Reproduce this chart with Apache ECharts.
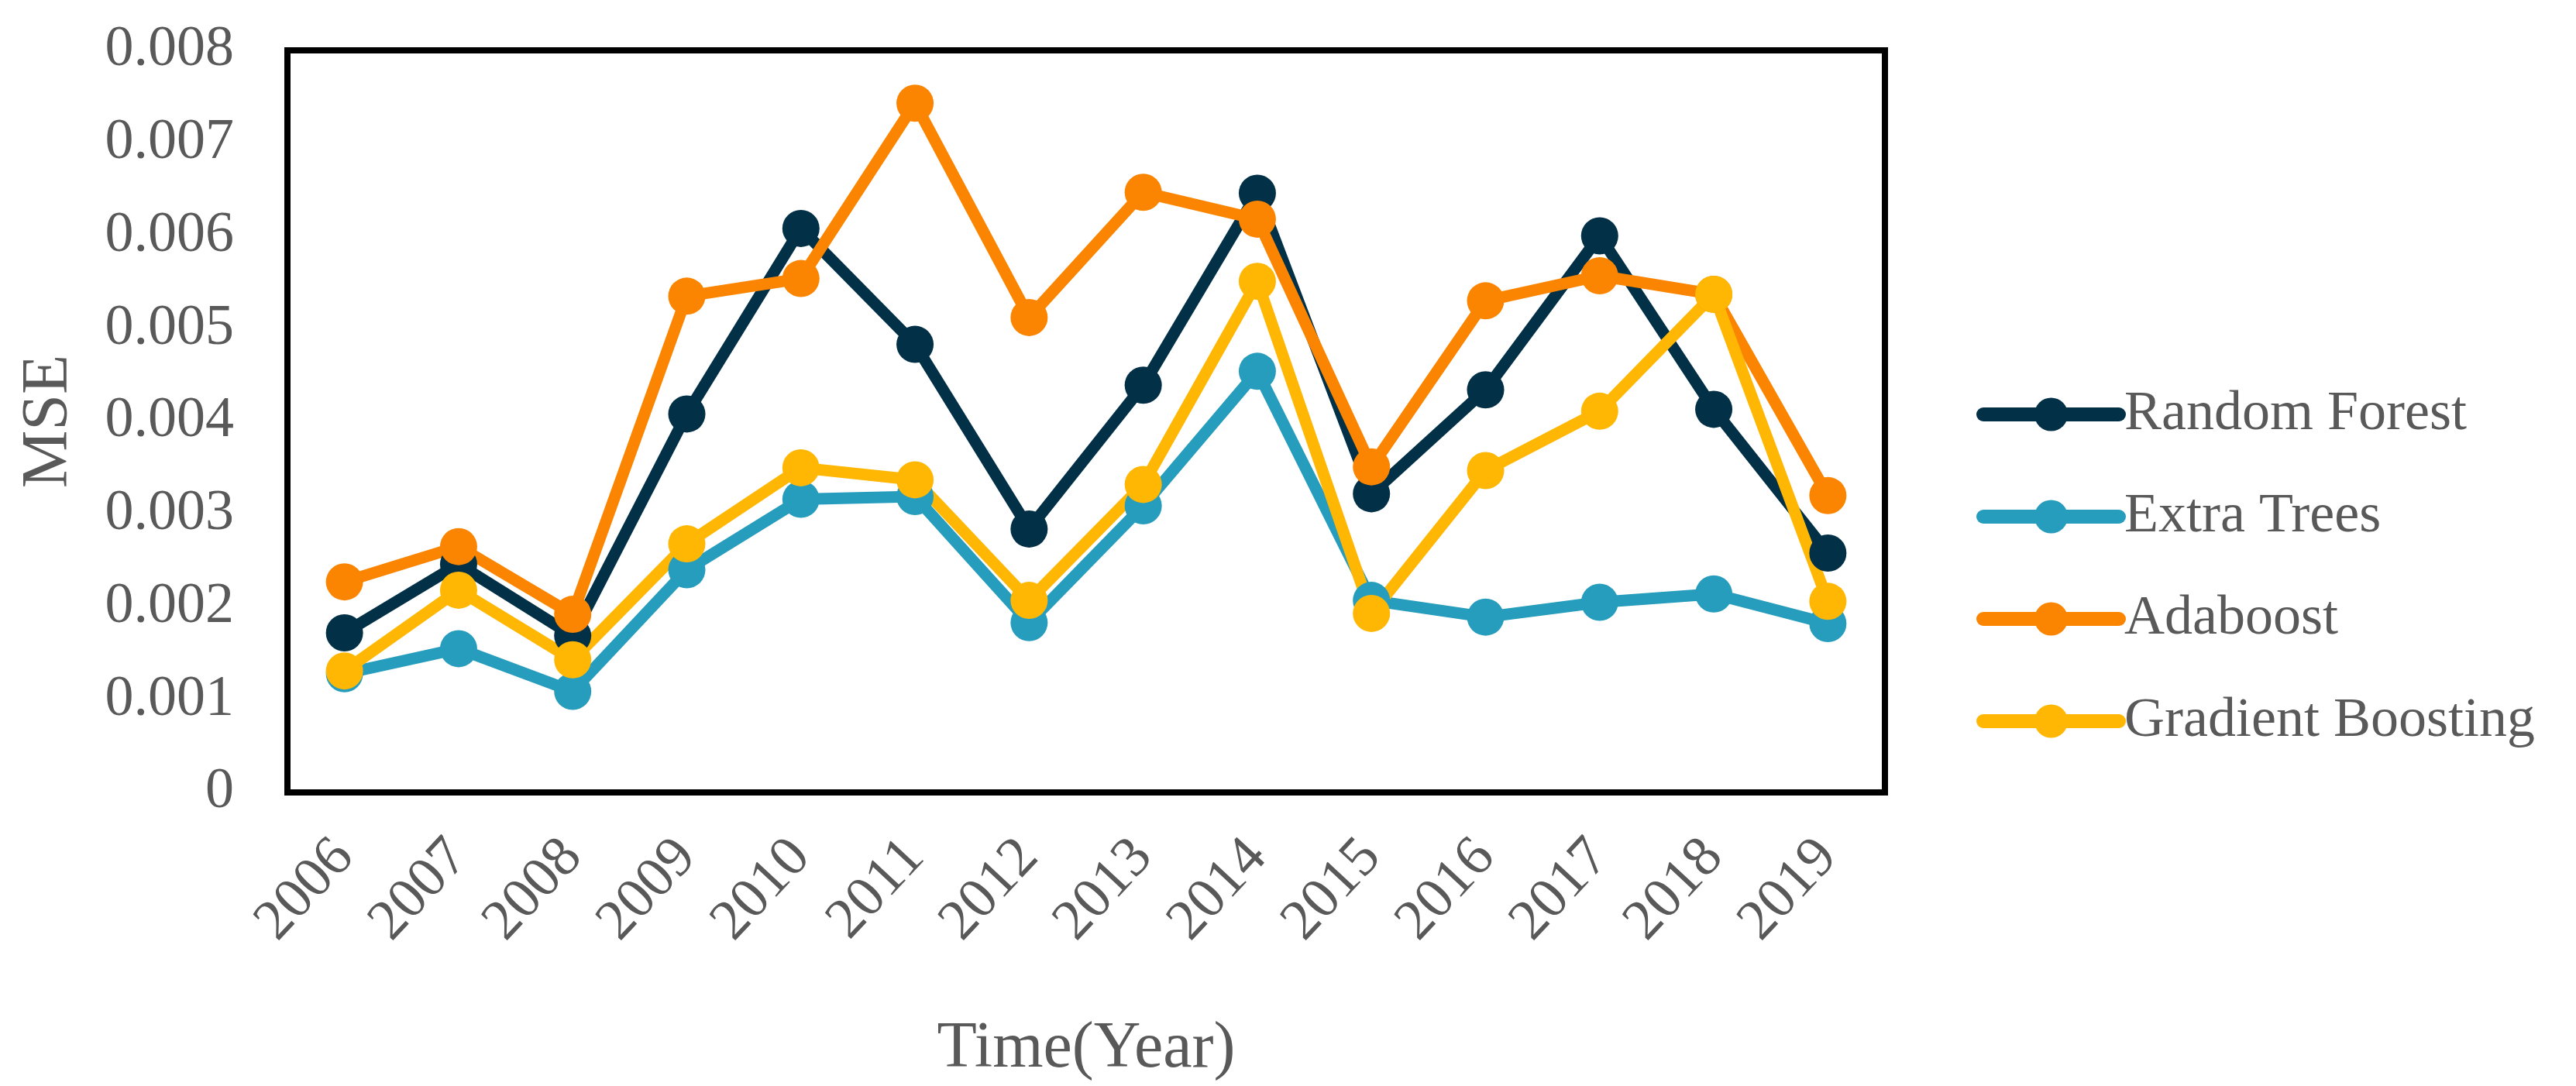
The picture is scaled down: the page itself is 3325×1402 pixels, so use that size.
<!DOCTYPE html>
<html>
<head>
<meta charset="utf-8">
<script src="https://cdn.jsdelivr.net/npm/echarts@6/dist/echarts.min.js"></script>
<style>html,body{margin:0;padding:0;background:#fff;}#c{width:3325px;height:1402px;}</style>
</head>
<body>
<div id="c"></div>
<script>
const years = ['2006','2007','2008','2009','2010','2011','2012','2013','2014','2015','2016','2017','2018','2019'];
const randomForest = [0.00172,0.00246,0.00169,0.00408,0.00608,0.00483,0.00284,0.00439,0.00646,0.00322,0.00434,0.00600,0.00413,0.00258];
const extraTrees = [0.00128,0.00155,0.00109,0.00240,0.00316,0.00319,0.00183,0.00309,0.00454,0.00207,0.00189,0.00205,0.00214,0.00182];
const adaboost = [0.00227,0.00265,0.00192,0.00535,0.00554,0.00743,0.00512,0.00647,0.00618,0.00351,0.00530,0.00557,0.00537,0.00320];
const gradientBoosting = [0.00131,0.00218,0.00143,0.00268,0.00350,0.00337,0.00207,0.00332,0.00551,0.00193,0.00347,0.00411,0.00537,0.00206];
const yTicks = [0, 0.008, 0.001];

const font = 'Liberation Serif, Times New Roman, serif';
const grey = '#595959';
function mk(name, data, color) {
  return {
    name: name, type: 'line', data: data,
    symbol: 'circle', symbolSize: 48,
    itemStyle: {color: color},
    lineStyle: {color: color, width: 15},
    emphasis: {disabled: true}
  };
}
const chart = echarts.init(document.getElementById('c'));
chart.setOption({
  animation: false,
  backgroundColor: '#fff',
  grid: {left: 371, right: 892, top: 65, bottom: 352, show: true, borderColor: '#000', borderWidth: 8, backgroundColor: 'transparent'},
  legend: {
    orient: 'vertical', left: 2546, top: 494,
    itemWidth: 175, itemHeight: 54, itemGap: 60,
    lineStyle: {width: 18, cap: 'round'},
    textStyle: {fontFamily: font, fontSize: 72, color: grey, padding: [0,0,0,2]},
    data: ['Random Forest','Extra Trees','Adaboost','Gradient Boosting']
  },
  xAxis: {
    type: 'category', data: years, boundaryGap: true,
    axisLine: {show: false}, axisTick: {show: false},
    axisLabel: {rotate: 47, fontFamily: font, fontSize: 74, color: grey, margin: 72},
    name: 'Time(Year)', nameLocation: 'middle', nameGap: 290,
    nameTextStyle: {fontFamily: font, fontSize: 84, color: grey}
  },
  yAxis: {
    type: 'value', min: yTicks[0], max: yTicks[1], interval: yTicks[2],
    axisLine: {show: false}, axisTick: {show: false}, splitLine: {show: false},
    axisLabel: {fontFamily: font, fontSize: 74, color: grey, margin: 69,
      formatter: v => v === 0 ? '0' : v.toFixed(3)},
    name: 'MSE', nameLocation: 'middle', nameGap: 265, nameRotate: 90,
    nameTextStyle: {fontFamily: font, fontSize: 84, color: grey}
  },
  series: [
    mk('Random Forest', randomForest, '#023047'),
    mk('Extra Trees', extraTrees, '#279DBD'),
    mk('Adaboost', adaboost, '#FB8500'),
    mk('Gradient Boosting', gradientBoosting, '#FFB703')
  ]
});
</script>
</body>
</html>
